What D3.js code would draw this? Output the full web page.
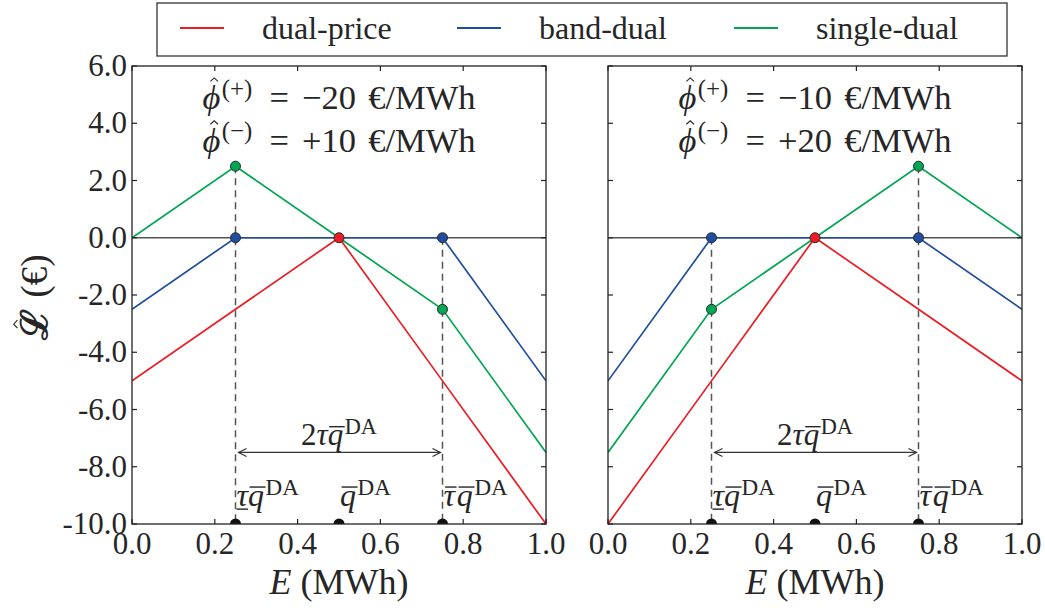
<!DOCTYPE html>
<html>
<head>
<meta charset="utf-8">
<script src="https://cdn.jsdelivr.net/npm/d3@7"></script>
<style>
  body { margin: 0; background: #fff; }
  svg { display: block; }
</style>
</head>
<body>
<svg id="chart" width="1045" height="612"></svg>
<script>
// ---- data -------------------------------------------------------------
const energy = [0, 0.25, 0.5, 0.75, 1.0];                 // E (MWh)

// left panel: phi(+) = -20, phi(-) = +10
const dualPriceLeft  = [-5, -2.5, 0, -5, -10];
const bandDualLeft   = [-2.5, 0, 0, 0, -5];
const singleDualLeft = [0, 2.5, 0, -2.5, -7.5];

// right panel: phi(+) = -10, phi(-) = +20
const dualPriceRight  = [-10, -5, 0, -2.5, -5];
const bandDualRight   = [-5, 0, 0, 0, -2.5];
const singleDualRight = [-7.5, -2.5, 0, 2.5, 0];

const seriesNames  = ["dual-price", "band-dual", "single-dual"];
const seriesColors = ["#ec1c24", "#1f4e9e", "#00a651"];
// energies at which each series carries a round marker
const markerEnergy = [[0.5], [0.25, 0.75], [0.25, 0.75]];

const phiPlus  = ["\u221220", "\u221210"];
const phiMinus = ["+10", "+20"];

const bandEnergy = [0.25, 0.75];       // tau_lower * q, tau_upper * q
const qEnergy    = [0.25, 0.5, 0.75];  // marked points on the E axis
const arrowLevel = -7.5;

const xTickValues = [0, 0.2, 0.4, 0.6, 0.8, 1.0];
const yTickValues = [-10, -8, -6, -4, -2, 0, 2, 4, 6];

// ---- layout -----------------------------------------------------------
const FONT = '"Liberation Serif", "DejaVu Serif", serif';
const ink = "#262626";
const svg = d3.select("#chart");
const panelTop = 66, panelBottom = 524;
const panelX = [[132, 546], [608, 1022]];
const y = d3.scaleLinear().domain([-10, 6]).range([panelBottom, panelTop]);

function styleText(sel, size) {
  return sel.style("font-family", FONT).attr("font-size", size).attr("fill", ink);
}

// lays out a run of text pieces (italic, superscript, over/under bars, hats)
function mathLabel(parent, segs, x, yy, size, anchor) {
  const g = parent.append("g");
  let cursor = 0;
  const laid = [];
  for (const s of segs) {
    cursor += (s.gap || 0) * size;
    const fs = s.sup ? size * 0.72 : size;
    const t = g.append("text")
      .attr("x", cursor)
      .attr("y", s.sup ? -0.36 * size : 0)
      .attr("font-size", fs)
      .attr("fill", ink)
      .style("font-family", s.family || FONT)
      .style("font-style", s.it ? "italic" : "normal")
      .text(s.t);
    if (s.bold) t.style("font-weight", "bold");
    const w = t.node().getComputedTextLength();
    laid.push({ s, x0: cursor, w });
    cursor += w;
  }
  for (const d of laid) {
    const lean = d.s.it ? 0.05 * size : 0;
    if (d.s.over) {
      g.append("line")
        .attr("x1", d.x0 + lean).attr("x2", d.x0 + d.w + lean)
        .attr("y1", -0.6 * size).attr("y2", -0.6 * size)
        .attr("stroke", ink).attr("stroke-width", 1.4);
    }
    if (d.s.under) {
      g.append("line")
        .attr("x1", d.x0).attr("x2", d.x0 + d.w)
        .attr("y1", 0.09 * size).attr("y2", 0.09 * size)
        .attr("stroke", ink).attr("stroke-width", 1.4);
    }
    if (d.s.hat) {
      const cx = d.x0 + d.w / 2 + lean * 1.6;
      const hy = -(d.s.hatY || 0.74) * size;
      g.append("path")
        .attr("d", `M${cx - 0.11 * size},${hy} L${cx},${hy - 0.1 * size} L${cx + 0.11 * size},${hy}`)
        .attr("fill", "none").attr("stroke", ink).attr("stroke-width", 1.1);
    }
  }
  const shift = anchor === "middle" ? -cursor / 2 : anchor === "end" ? -cursor : 0;
  g.attr("transform", `translate(${x + shift},${yy})`);
  return g;
}

const panelSeries = [
  [dualPriceLeft, bandDualLeft, singleDualLeft],
  [dualPriceRight, bandDualRight, singleDualRight]
];

panelSeries.forEach((series, p) => {
  const x = d3.scaleLinear().domain([0, 1]).range(panelX[p]);
  const g = svg.append("g");

  const clipId = "clip" + p;
  svg.append("clipPath").attr("id", clipId)
    .append("rect")
    .attr("x", x(0)).attr("y", y(6))
    .attr("width", x(1) - x(0)).attr("height", y(-10) - y(6));

  // zero reference line
  g.append("line")
    .attr("x1", x(0)).attr("x2", x(1))
    .attr("y1", y(0)).attr("y2", y(0))
    .attr("stroke", "#555").attr("stroke-width", 1.3);

  // loss curves
  const line = d3.line().x((d, i) => x(energy[i])).y(d => y(d));
  series.forEach((vals, k) => {
    g.append("path")
      .datum(vals)
      .attr("d", line)
      .attr("fill", "none")
      .attr("stroke", seriesColors[k])
      .attr("stroke-width", 1.7)
      .attr("clip-path", `url(#${clipId})`);
  });

  // dashed guides at the band limits
  bandEnergy.forEach(e => {
    const i = energy.indexOf(e);
    const top = d3.max(series, vals => vals[i]);
    g.append("line")
      .attr("x1", x(e)).attr("x2", x(e))
      .attr("y1", y(top)).attr("y2", y(-10))
      .attr("stroke", "#555").attr("stroke-width", 1.5)
      .attr("stroke-dasharray", "7,5");
  });

  // double-headed arrow spanning the band
  const ax0 = x(bandEnergy[0]) + 3, ax1 = x(bandEnergy[1]) - 2, ay = y(arrowLevel);
  g.append("line")
    .attr("x1", ax0).attr("x2", ax1).attr("y1", ay).attr("y2", ay)
    .attr("stroke", "#333").attr("stroke-width", 1.2);
  g.append("path")
    .attr("d", `M${ax0 + 8},${ay - 4} L${ax0},${ay} L${ax0 + 8},${ay + 4} M${ax1 - 8},${ay - 4} L${ax1},${ay} L${ax1 - 8},${ay + 4}`)
    .attr("fill", "none").attr("stroke", "#333").attr("stroke-width", 1.2);

  // round markers on the curves
  series.forEach((vals, k) => {
    markerEnergy[k].forEach(e => {
      const i = energy.indexOf(e);
      g.append("circle")
        .attr("cx", x(e)).attr("cy", y(vals[i])).attr("r", 5)
        .attr("fill", seriesColors[k]).attr("stroke", "#2b2b2b").attr("stroke-width", 1);
    });
  });

  // points on the energy axis
  g.selectAll("circle.q")
    .data(qEnergy)
    .join("circle")
    .attr("class", "q")
    .attr("cx", d => x(d)).attr("cy", y(-10)).attr("r", 5.5)
    .attr("fill", "#111")
    .attr("clip-path", `url(#${clipId})`);

  // frame
  g.append("rect")
    .attr("x", x(0)).attr("y", y(6))
    .attr("width", x(1) - x(0)).attr("height", y(-10) - y(6))
    .attr("fill", "none").attr("stroke", "#222").attr("stroke-width", 1.3);

  // inward ticks on all four sides
  const tl = 5;
  xTickValues.forEach(v => {
    g.append("line").attr("x1", x(v)).attr("x2", x(v)).attr("y1", y(-10)).attr("y2", y(-10) - tl)
      .attr("stroke", "#222").attr("stroke-width", 1.2);
    g.append("line").attr("x1", x(v)).attr("x2", x(v)).attr("y1", y(6)).attr("y2", y(6) + tl)
      .attr("stroke", "#222").attr("stroke-width", 1.2);
  });
  yTickValues.forEach(v => {
    g.append("line").attr("x1", x(0)).attr("x2", x(0) + tl).attr("y1", y(v)).attr("y2", y(v))
      .attr("stroke", "#222").attr("stroke-width", 1.2);
    g.append("line").attr("x1", x(1)).attr("x2", x(1) - tl).attr("y1", y(v)).attr("y2", y(v))
      .attr("stroke", "#222").attr("stroke-width", 1.2);
  });

  // tick labels
  g.selectAll("text.xt")
    .data(xTickValues)
    .join("text")
    .attr("class", "xt")
    .attr("x", d => x(d)).attr("y", 554)
    .attr("text-anchor", "middle")
    .call(styleText, 31)
    .text(d => d3.format(".1f")(d));
  if (p === 0) {
    g.selectAll("text.yt")
      .data(yTickValues)
      .join("text")
      .attr("class", "yt")
      .attr("x", x(0) - 5).attr("y", d => y(d) + 10)
      .attr("text-anchor", "end")
      .call(styleText, 31)
      .text(d => d3.format(".1f")(d).replace("\u2212", "-"));
  }

  // imbalance price annotation
  mathLabel(g, [
    { t: "\u03d5", it: true, hat: true, hatY: 0.8 },
    { t: "(+)", sup: true, gap: 0.04 },
    { t: "=", gap: 0.5 },
    { t: phiPlus[p], gap: 0.38 },
    { t: "\u20ac/MWh", gap: 0.35 }
  ], x(0.5), y(4.5), 34.5, "middle");
  mathLabel(g, [
    { t: "\u03d5", it: true, hat: true, hatY: 0.8 },
    { t: "(\u2212)", sup: true, gap: 0.04 },
    { t: "=", gap: 0.5 },
    { t: phiMinus[p], gap: 0.38 },
    { t: "\u20ac/MWh", gap: 0.35 }
  ], x(0.5), y(3.0), 34.5, "middle");

  // band width label
  mathLabel(g, [
    { t: "2" },
    { t: "\u03c4", it: true },
    { t: "q", it: true, over: true },
    { t: "DA", sup: true, gap: 0.05 }
  ], x(0.5), y(-7.25), 31, "middle");

  // labels for the marked energies
  const qLabels = [
    [{ t: "\u03c4", it: true, under: true }, { t: "q", it: true, over: true }, { t: "DA", sup: true, gap: 0.05 }],
    [{ t: "q", it: true, over: true }, { t: "DA", sup: true, gap: 0.05 }],
    [{ t: "\u03c4", it: true, over: true }, { t: "q", it: true, over: true, gap: 0.06 }, { t: "DA", sup: true, gap: 0.05 }]
  ];
  qEnergy.forEach((e, i) => {
    mathLabel(g, qLabels[i], x(e) + 1, y(-9.38), 32, "start");
  });

  // x axis title
  mathLabel(g, [
    { t: "E", it: true },
    { t: "(MWh)", gap: 0.25 }
  ], x(0.5), 594, 36, "middle");
});

// y axis title
const yTitle = svg.append("g").attr("transform", "translate(47,297) rotate(-90)");
mathLabel(yTitle, [
  { t: "\u2112", hat: true, hatY: 0.8, bold: true },
  { t: "(\u20ac)", gap: 0.3 }
], 0, 0, 37, "middle");

// legend
const legend = svg.append("g");
legend.append("rect")
  .attr("x", 157).attr("y", 3).attr("width", 850).attr("height", 53)
  .attr("fill", "#fff").attr("stroke", "#333").attr("stroke-width", 1.3);
const legendX = d3.scalePoint().domain(seriesNames).range([180, 734]);
seriesNames.forEach((name, k) => {
  const lx = legendX(name);
  legend.append("line")
    .attr("x1", lx).attr("x2", lx + 44).attr("y1", 28).attr("y2", 28)
    .attr("stroke", seriesColors[k]).attr("stroke-width", 2);
  legend.append("text")
    .attr("x", lx + 82).attr("y", 39)
    .call(styleText, 32)
    .text(name);
});
</script>
</body>
</html>
